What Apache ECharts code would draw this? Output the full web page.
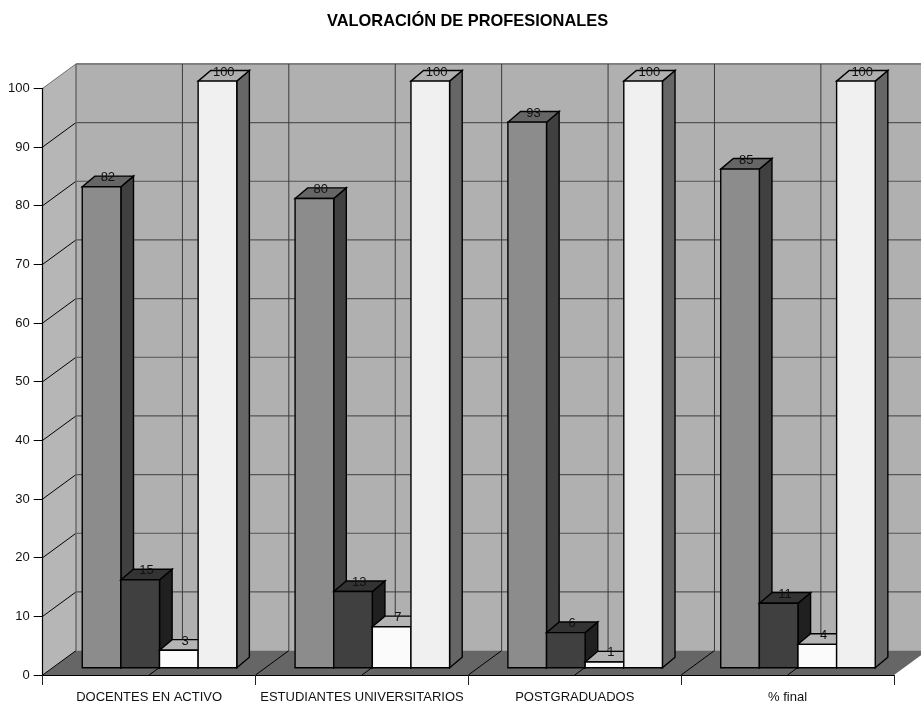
<!DOCTYPE html>
<html><head><meta charset="utf-8">
<style>html,body{margin:0;padding:0;background:#fff}#c{width:921px;height:705px}</style>
<script src="https://cdn.jsdelivr.net/npm/echarts@6/dist/echarts.min.js"></script>
</head><body><div id="c"></div>
<script>
const title = 'VALORACIÓN DE PROFESIONALES';
const categories = ['DOCENTES EN ACTIVO', 'ESTUDIANTES UNIVERSITARIOS', 'POSTGRADUADOS', '% final'];
const serieA = [82, 80, 93, 85];
const serieB = [15, 13, 6, 11];
const serieC = [3, 7, 1, 4];
const serieD = [100, 100, 100, 100];
const yTicks = [0, 10, 20, 30, 40, 50, 60, 70, 80, 90, 100];

const WALL_DX = 33.3, WALL_DY = -24.4;
const BAR_INSET_DX = 10.4, BAR_INSET_DY = -7.2, BAR_DX = 12.6, BAR_DY = -10.6, BAR_RATIO = 0.1815;
const palettes = [
  {front: '#8c8c8c', top: '#666666', side: '#404040'},
  {front: '#404040', top: '#333333', side: '#202020'},
  {front: '#fbfbfb', top: '#b4b4b4', side: '#8a8a8a'},
  {front: '#f0f0f0', top: '#b0b0b0', side: '#666666'}
];
const seriesValues = [serieA, serieB, serieC, serieD];

function poly(points, fill, stroke, lw, z2) {
  return {type: 'polygon', z2: z2 || 0, shape: {points}, style: {fill, stroke: stroke || 'none', lineWidth: lw || 0}};
}
function line(a, b, stroke, lw, z2) {
  return {type: 'line', z2: z2 || 1, shape: {x1: a[0], y1: a[1], x2: b[0], y2: b[1]}, style: {stroke, lineWidth: lw, fill: 'none'}};
}

function renderWalls(params, api) {
  const band = api.size([1, 0])[0];
  const x0 = api.coord([0, 0])[0] - band / 2;
  const x1 = api.coord([categories.length - 1, 0])[0] + band / 2;
  const yB = api.coord([0, 0])[1], yT = api.coord([0, 100])[1];
  const back = (x, y) => [x + WALL_DX, y + WALL_DY];
  const ch = [];
  ch.push(poly([[x0, yT], back(x0, yT), back(x0, yB), [x0, yB]], '#b6b6b6'));
  ch.push(poly([back(x0, yT), back(x1, yT), back(x1, yB), back(x0, yB)], '#b0b0b0'));
  ch.push(poly([[x0, yB], back(x0, yB), back(x1, yB), [x1, yB]], '#666666'));
  yTicks.forEach(v => {
    const y = api.coord([0, v])[1];
    ch.push(line([x0, y], back(x0, y), v === 100 ? '#707070' : '#000000', 1));
    if (v > 0) ch.push(line(back(x0, y), back(x1, y), '#555555', v === 100 ? 1.4 : 1.2));
  });
  for (let i = 0; i <= categories.length * 2; i++) {
    const x = x0 + i * band / 2;
    ch.push(line(back(x, yT), back(x, yB), i === 0 ? '#666666' : '#3a3a3a', i === 0 ? 1.4 : 1));
    if (i > 0 && i < categories.length * 2) ch.push(line([x, yB], back(x, yB), '#000000', 1));
  }
  return {type: 'group', children: ch};
}

function makeBarRender(s) {
  return function (params, api) {
    const idx = api.value(0), val = api.value(1);
    const c = api.coord([idx, val]);
    const y0 = api.coord([idx, 0])[1] + BAR_INSET_DY;
    const band = api.size([1, 0])[0];
    const w = band * BAR_RATIO;
    const l = c[0] + BAR_INSET_DX + (s - 2) * w, r = l + w;
    const t = c[1] + BAR_INSET_DY;
    const p = palettes[s];
    const bw = 1.4;
    return {type: 'group', children: [
      poly([[r, t], [r + BAR_DX, t + BAR_DY], [r + BAR_DX, y0 + BAR_DY], [r, y0]], p.side, '#000', bw),
      poly([[l, t], [l + BAR_DX, t + BAR_DY], [r + BAR_DX, t + BAR_DY], [r, t]], p.top, '#000', bw),
      poly([[l, t], [r, t], [r, y0], [l, y0]], p.front, '#000', bw),
      {type: 'text', z2: 50, style: {
        x: (l + r) / 2 + BAR_DX / 2, y: t + BAR_DY + 1.5, text: String(val),
        fill: '#111', font: '13px "Liberation Sans"', align: 'center', verticalAlign: 'middle'
      }}
    ]};
  };
}

const chart = echarts.init(document.getElementById('c'), null, {renderer: 'canvas'});
chart.setOption({
  animation: false,
  backgroundColor: '#ffffff',
  title: {text: title, left: 322, top: 8, textStyle: {fontFamily: 'Liberation Sans', fontSize: 16.4, fontWeight: 'bold', color: '#000'}},
  grid: {left: 42.7, right: 27, top: 88.3, bottom: 30, containLabel: false},
  xAxis: {
    type: 'category', data: categories, z: 10,
    axisLine: {lineStyle: {color: '#000', width: 1.2}},
    axisTick: {show: true, length: 10, alignWithLabel: false, interval: 0, lineStyle: {color: '#222', width: 1}},
    axisLabel: {interval: 0, margin: 16, fontFamily: 'Liberation Sans', fontSize: 13, color: '#111'}
  },
  yAxis: {
    type: 'value', min: 0, max: 100, interval: 10, z: 10,
    splitLine: {show: false},
    axisLine: {show: true, lineStyle: {color: '#000', width: 1.2}},
    axisTick: {show: true, length: 9, lineStyle: {color: '#000', width: 1}},
    axisLabel: {margin: 13, fontFamily: 'Liberation Sans', fontSize: 13, color: '#111'}
  },
  series: [
    {type: 'custom', name: 'walls', z: 1, silent: true, clip: false, renderItem: renderWalls, data: [[0, 0]], encode: {x: 0, y: 1}}
  ].concat(seriesValues.map((vals, s) => ({
    type: 'custom', name: 'serie' + s, z: 3 + s, clip: false, renderItem: makeBarRender(s),
    data: vals.map((v, i) => [i, v]), encode: {x: 0, y: 1}
  })))
});
</script></body></html>
